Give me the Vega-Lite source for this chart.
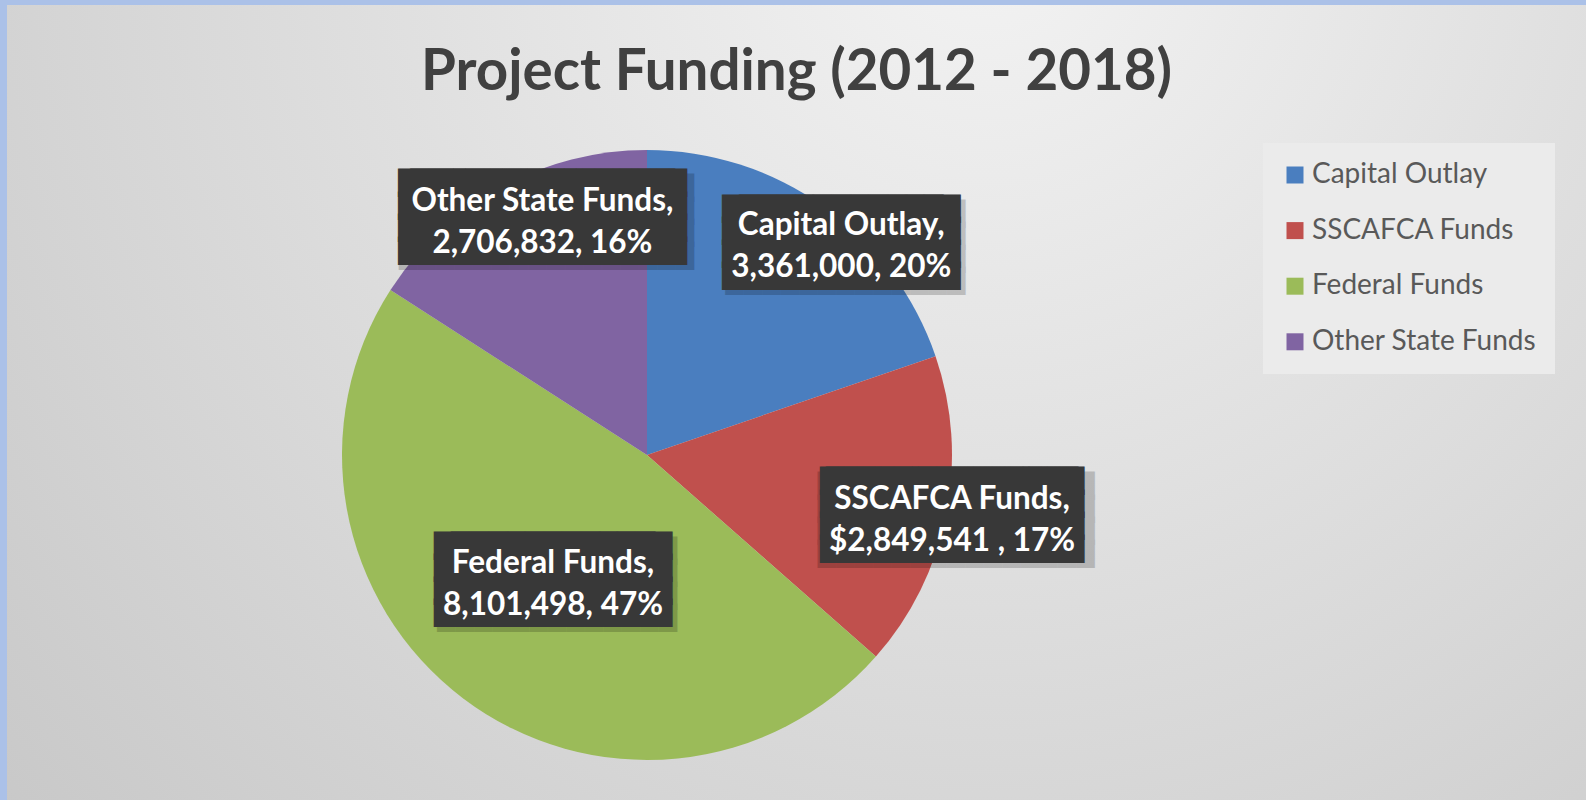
{
  "$schema": "https://vega.github.io/schema/vega-lite/v6.json",
  "autosize": {"type": "fit", "contains": "padding"},
  "width": 1586,
  "height": 800,
  "padding": {"left": 7, "top": 5, "right": 0, "bottom": 0},
  "background": "#abc1e8",
  "title": {
    "text": "Project Funding (2012 - 2018)",
    "font": "Lato",
    "fontSize": 56.5,
    "fontWeight": "bold",
    "color": "#404040",
    "anchor": "middle",
    "frame": "group",
    "baseline": "alphabetic",
    "offset": -92,
    "dy": 49,
    "dx": 0
  },
  "config": {"view": {"stroke": null}},
  "params": [
    {
      "name": "P",
      "value": {
        "Capital Outlay": {"r": 286, "ldx": 28, "ldy": 4, "bdx": 28, "bdy": -12.4, "s": 17, "n": 12},
        "Other State Funds": {"r": 260, "ldx": 20, "ldy": -25, "bdx": 20, "bdy": -42.5, "s": 12, "n": 15},
        "SSCAFCA Funds": {"r": 311, "ldx": 0, "ldy": -16, "bdx": 0, "bdy": -33.5, "s": 6, "n": 14},
        "Federal Funds": {"r": 156, "ldx": 0, "ldy": -15, "bdx": 0, "bdy": -32.8, "s": 17, "n": 12}
      }
    }
  ],
  "data": {
    "values": [
      {"category": "Capital Outlay", "amount": 3361000, "label": "Capital Outlay,\n3,361,000, 20%"},
      {"category": "SSCAFCA Funds", "amount": 2849541, "label": "SSCAFCA Funds,\n$2,849,541 , 17%"},
      {"category": "Federal Funds", "amount": 8101498, "label": "Federal Funds,\n8,101,498, 47%"},
      {"category": "Other State Funds", "amount": 2706832, "label": "Other State Funds,\n2,706,832, 16%"}
    ]
  },
  "transform": [{"window": [{"op": "row_number", "as": "idx"}]}],
  "layer": [
    {
      "data": {"values": [{"panel": "background"}]},
      "mark": {
        "type": "rect",
        "fill": {
          "gradient": "radial",
          "x1": 0.62, "y1": 0.2, "r1": 0,
          "x2": 0.62, "y2": 0.2, "r2": 0.9,
          "stops": [
            {"offset": 0, "color": "#f3f3f3"},
            {"offset": 1, "color": "#c5c5c5"}
          ]
        }
      },
      "encoding": {}
    },
    {
      "mark": {"type": "arc", "x": 640, "y": 450, "radius": 305, "strokeWidth": 0},
      "encoding": {
        "theta": {"field": "amount", "type": "quantitative", "stack": true},
        "order": {"field": "idx", "type": "quantitative"},
        "color": {
          "field": "category",
          "type": "nominal",
          "scale": {
            "domain": ["Capital Outlay", "SSCAFCA Funds", "Federal Funds", "Other State Funds"],
            "range": ["#4a7ebf", "#c0504d", "#9bbb59", "#8064a2"]
          },
          "legend": {
            "orient": "none",
            "legendX": 1256,
            "legendY": 138,
            "title": null,
            "symbolType": "square",
            "symbolSize": 289,
            "symbolStrokeWidth": 0,
            "labelFont": "Lato",
            "labelFontSize": 28,
            "labelColor": "#595959",
            "labelOffset": 3,
            "labelLimit": 400,
            "rowPadding": 27.6,
            "padding": 18,
            "fillColor": "#ebebeb",
            "labelExpr": "datum.label == 'Federal Funds' ? '\u00a0Federal Funds' : datum.label"
          }
        }
      }
    },
    {
      "mark": {
        "type": "text",
        "x": 640,
        "y": 450,
        "radius": {"expr": "P[datum.category].r"},
        "dx": {"expr": "P[datum.category].bdx + 4"},
        "dy": {"expr": "P[datum.category].bdy + 5"},
        "font": "DejaVu Sans",
        "fontSize": 24,
        "lineHeight": 22.5,
        "lineBreak": "|",
        "align": "center",
        "baseline": "middle",
        "fill": "#000000",
        "opacity": 0.18,
        "text": {"expr": "pad('', P[datum.category].n + 1, '█') + '|' + pad('', P[datum.category].n + 1, '█') + '|' + pad('', P[datum.category].n + 1, '█') + '|' + pad('', P[datum.category].n + 1, '█')"}
      },
      "encoding": {
        "theta": {"field": "amount", "type": "quantitative", "stack": true},
        "order": {"field": "idx", "type": "quantitative"}
      }
    },
    {
      "mark": {
        "type": "text",
        "x": 640,
        "y": 450,
        "radius": {"expr": "P[datum.category].r"},
        "dx": {"expr": "P[datum.category].bdx - P[datum.category].s / 2"},
        "dy": {"expr": "P[datum.category].bdy"},
        "font": "DejaVu Sans",
        "fontSize": 24,
        "lineHeight": 22.5,
        "lineBreak": "|",
        "align": "center",
        "baseline": "middle",
        "fill": "#383838",
        "text": {"expr": "pad('', P[datum.category].n, '█') + '|' + pad('', P[datum.category].n, '█') + '|' + pad('', P[datum.category].n, '█') + '|' + pad('', P[datum.category].n, '█')"}
      },
      "encoding": {
        "theta": {"field": "amount", "type": "quantitative", "stack": true},
        "order": {"field": "idx", "type": "quantitative"}
      }
    },
    {
      "mark": {
        "type": "text",
        "x": 640,
        "y": 450,
        "radius": {"expr": "P[datum.category].r"},
        "dx": {"expr": "P[datum.category].bdx + P[datum.category].s / 2"},
        "dy": {"expr": "P[datum.category].bdy"},
        "font": "DejaVu Sans",
        "fontSize": 24,
        "lineHeight": 22.5,
        "lineBreak": "|",
        "align": "center",
        "baseline": "middle",
        "fill": "#383838",
        "text": {"expr": "pad('', P[datum.category].n, '█') + '|' + pad('', P[datum.category].n, '█') + '|' + pad('', P[datum.category].n, '█') + '|' + pad('', P[datum.category].n, '█')"}
      },
      "encoding": {
        "theta": {"field": "amount", "type": "quantitative", "stack": true},
        "order": {"field": "idx", "type": "quantitative"}
      }
    },
    {
      "mark": {
        "type": "text",
        "x": 640,
        "y": 450,
        "radius": {"expr": "P[datum.category].r"},
        "dx": {"expr": "P[datum.category].ldx"},
        "dy": {"expr": "P[datum.category].ldy"},
        "font": "Lato",
        "fontSize": 31.5,
        "fontWeight": "bold",
        "lineBreak": "\n",
        "lineHeight": 42,
        "align": "center",
        "baseline": "middle",
        "fill": "#ffffff"
      },
      "encoding": {
        "theta": {"field": "amount", "type": "quantitative", "stack": true},
        "order": {"field": "idx", "type": "quantitative"},
        "text": {"field": "label"}
      }
    }
  ]
}
